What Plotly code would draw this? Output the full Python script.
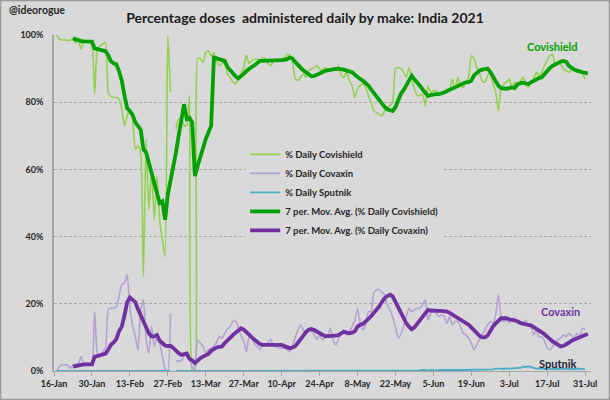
import pandas as pd
import plotly.graph_objects as go

start_date = "2021-01-17"

# % daily Covishield (one value per day from 17-Jan)
covishield_daily = [
    100, 98.8, 98.5, 98.5, 98.4, 98.5, 98.8, 97.6, 98.8, 95.8,
    97.8, 98, 98, 97.3, 82.4, 95.8, 96.8, 97.3, 97.8, 83,
    81.7, 81.4, 81.4, 80.9, 78, 73, 76, 78, 75, 66,
    67, 65, 28, 69, 48, 60, 45, 58, 45, 39,
    34, 100, 83, None, 72, 75, 75, 73, 73, 82,
    0, 0, 93, 93, 91.8, 94.8, 95.3, 93.8, 94.8, 92.3,
    90.8, 91.5, 91.8, 88.4, 87.4, 86, 85.4, 86.9, 88.4, 90.3,
    94, 91.5, 92.3, 92.8, 92.8, 92.3, 93.3, 92.8, 91.5, 90.8,
    92.3, 92.8, 92.8, 92.8, 93.3, 94.3, 94, 92, 87, 86.4,
    87.5, 88.4, 87.4, 89.4, 89.9, 90.3, 90.8, 89.9, 89.4, 90.3,
    89.9, 89.9, 89.9, 89.4, 90.8, 88, 87.4, 88.9, 86.4, 84.9,
    81.4, 84, 85, 85.4, 84.4, 82, 80, 77.5, 76.9, 76.4,
    75.9, 77.4, 78.4, 79, 79.9, 90, 90.3, 90, 89, 87.4,
    90.3, 87, 84, 82, 82, 82.4, 78.9, 84.9, 83, 83.4,
    83.4, 82.4, 82.9, 82.9, 83.9, 84, 86.9, 84, 87.4, 85,
    84.4, 85.9, 87.4, 93.8, 93, 90.3, 88.5, 86.4, 85.9, 87.9,
    88.9, 85.5, 83, 77.4, 84, 85.4, 86, 86.9, 84.4, 85.9,
    85.4, 86, 87.4, 85.9, 84.4, 85.9, 87, 88.9, 87.9, 88.9,
    90.8, 92.5, 93.8, 94.3, 90.8, 91.8, 91.3, 89.9, 89.4, 88.9,
    89.5, 89.9, 88.9, 89.4, 88.4, 86.9, None,
]

covaxin_daily = [
    0, 1.3, 1.8, 1.8, 1.8, 0.8, 1.8, 2, 2.3, 4.3,
    1.8, 2.3, 2.3, 1.8, 17.7, 5.3, 4.3, 5.8, 6.8, 18.2,
    18.7, 18.7, 19.2, 22.2, 25.7, 26.2, 28.7, 19, 13.5, 10.2,
    6.3, 18.2, 21.2, 9.3, 5.3, 13.2, 7.3, 10.2, 8.3, 4.3,
    0.5, 0, 17.2, None, 3, 3, 3, 4.5, 4.5, 3.5,
    1.3, 0.3, 9.3, 8.3, 7.3, 5.3, 6.3, 6.8, 7.5, 8.5,
    10.2, 9.7, 11.2, 12.5, 13.2, 14.7, 15, 13, 10.5, 9,
    5.8, 10.2, 9.8, 8, 7.3, 6.3, 7.8, 7.8, 8.5, 9.5,
    7.3, 7.3, 6.8, 6.8, 6.8, 6.3, 5.8, 7.3, 10, 12.2,
    13.7, 12.2, 11.2, 12.2, 11.7, 11, 9.3, 10.7, 9.3, 9.8,
    10.5, 12.7, 9.3, 7.8, 9.5, 11.5, 11.7, 10.7, 11.7, 13.2,
    15, 18.7, 14.2, 12.2, 13.7, 17.7, 17.7, 23.2, 24.2, 24.2,
    23.5, 22.7, 19.7, 18.2, 16, 13, 9.8, 11, 13.2, 16.2,
    18.7, 17.7, 18.2, 18.7, 18.7, 19.7, 21.2, 15.2, 17.2, 17.7,
    17.2, 16.2, 16.7, 16.2, 14.2, 16.2, 13.7, 14.7, 14.7, 13.2,
    11.2, 10.7, 9.8, 8.3, 6.3, 7.8, 9.3, 10.7, 12.2, 13.7,
    14.7, 14.2, 16.7, 22.7, 16.2, 14.7, 15.2, 14.2, 15.5, 15.7,
    14.7, 14.7, 13.7, 15.2, 14, 13.7, 10.7, 12.2, 10.2, 10.2,
    9, 6.8, 6.3, 7.3, 8.5, 9.3, 9.8, 10.7, 10.2, 11.2,
    10.5, 9.8, 11.2, 10.2, 12.7, 12.5, None,
]

sputnik_daily = [
    0, 0, 0, 0, 0, 0, 0, 0, 0, 0,
    0, 0, 0, 0, 0, 0, 0, 0, 0, 0,
    0, 0, 0, 0, 0, 0, 0, 0, 0, 0,
    0, 0, 0, 0, 0, 0, 0, 0, 0, 0,
    0, 0, 0, None, 0, 0, 0, 0, 0, 0,
    0, 0, 0, 0, 0, 0, 0, 0, 0, 0,
    0, 0, 0, 0, 0, 0, 0, 0, 0, 0,
    0, 0, 0, 0, 0, 0, 0, 0, 0, 0,
    0, 0, 0, 0, 0, 0, 0, 0, 0, 0,
    0, 0, 0, 0, 0, 0, 0, 0, 0, 0,
    0, 0, 0, 0, 0, 0, 0, 0, 0, 0,
    0, 0, 0, 0, 0, 0, 0, 0.1, 0.1, 0.1,
    0.1, 0.1, 0.2, 0.1, 0.1, 0.2, 0.1, 0.2, 0.2, 0.1,
    0.2, 0.2, 0.1, 0.2, 0.2, 0.3, 0.2, 0.2, 0.3, 0.2,
    0.2, 0.3, 0.2, 0.3, 0.3, 0.2, 0.3, 0.3, 0.2, 0.3,
    0.3, 0.3, 0.4, 0.3, 0.3, 0.4, 0.3, 0.4, 0.4, 0.3,
    0.4, 0.5, 0.7, 0.8, 0.7, 0.6, 0.8, 0.7, 0.7, 0.8,
    0.7, 0.9, 1.3, 1.2, 1.4, 1.1, 0.8, 0.7, 0.8, 0.6,
    0.6, 0.5, 0.7, 0.6, 0.5, 0.6, 0.7, 0.6, 0.5, 0.6,
    0.6, 0.5, 0.6, 0.7, 0.6, 0.5, None,
]

covishield_ma7 = [
    None, None, None, None, None, None, 99.0, 98.7, 98.6, 98.2,
    98.1, 98.1, 98.1, 98.0, 96.0, 95.8, 95.6, 95.4, 95.2, 94.0,
    92.2, 91.6, 91.3, 89.2, 86.5, 82, 78.2, 77.4, 76.2, 74,
    72.8, 71.8, 66, 65, 62, 59, 56, 54, 50, 50.5,
    45, 52.5, 56.5, 60, 65, 70, 74, 79.4, 75, 75.4,
    74, 58, 61, 64, 67, 69, 71, 73, 93.3, 93,
    92.8, 92.5, 92.3, 90.5, 89.5, 88.3, 87.7, 87.1, 87.6, 88.4,
    89.3, 90, 90.5, 91, 91.7, 92.3, 92.3, 92.3, 92.3, 92.3,
    92.3, 92.3, 92.3, 92.5, 92.6, 92.8, 93.3, 93, 92, 91,
    90.3, 89.5, 88.9, 88, 87.7, 87.8, 88.2, 88.7, 89, 89.3,
    89.5, 89.7, 89.9, 89.9, 89.9, 89.9, 89.7, 89.4, 89.2, 88.9,
    88.2, 87.4, 86.9, 86.4, 85.8, 85, 83.8, 82.8, 81.8, 80.4,
    79.4, 78.6, 77.9, 77.6, 77.4, 78.5, 80.5, 82.5, 83.6, 85.2,
    86.4, 87.9, 86.8, 85.6, 84.9, 83.8, 82.9, 81.9, 82.1, 82.4,
    82.4, 82.4, 82.6, 82.9, 83.3, 83.7, 83.9, 84.3, 84.9, 85.3,
    85.7, 85.9, 86, 86.4, 88, 88.8, 89.4, 89.7, 90, 90,
    89, 87.5, 86.4, 84.9, 84.2, 84, 84, 84.2, 84.4, 84.2,
    85.3, 85.6, 85.8, 85.6, 85.4, 85.9, 86.4, 86.9, 87.2, 87.4,
    88.4, 89.4, 90.2, 90.8, 91.3, 91.7, 92.1, 92.3, 92, 90.8,
    90.2, 89.7, 89.4, 89.1, 88.9, 88.7, 88.6,
]

covaxin_ma7 = [
    None, None, None, None, None, None, 1.3, 1.5, 1.7, 2,
    2, 2, 2, 2, 4.2, 4.5, 4.8, 4.9, 5.2, 6.3,
    7.8, 8.5, 9.5, 11.8, 13.2, 16.5, 20.5, 21.9, 21.3, 20.5,
    18.4, 16.8, 15.2, 13, 11.2, 10.3, 10.3, 10.7, 9, 8.4,
    7.6, 7.4, 7.5, 6.9, 5.9, 5.3, 4.8, 5, 5.2, 3.6,
    3.2, 2.4, 3.2, 3.8, 4.3, 4.7, 5.1, 6, 6.6, 7,
    7.2, 7.3, 8.3, 9.2, 10, 10.7, 11.4, 12.2, 12.7, 12.3,
    11.7, 10.8, 10, 9.3, 8.6, 8, 7.8, 7.8, 7.8, 7.8,
    7.8, 7.8, 7.8, 7.8, 7.4, 7.1, 6.8, 7, 7.4, 8.4,
    9.5, 10.6, 11.6, 12.3, 12.5, 12.2, 11.7, 11.3, 10.8, 10.4,
    10.4, 10.4, 10.4, 10.5, 10.7, 11.2, 11.7, 11.4, 11.2, 11.4,
    11.8, 13.2, 13.8, 14, 14.6, 15.5, 16.3, 17.2, 18.2, 19.2,
    20.5, 21.7, 22.3, 22.7, 22.2, 20.5, 18.7, 17, 15.8, 14.2,
    13.2, 12.4, 13, 14, 15.2, 16.2, 17.3, 18.2, 18, 17.9,
    17.9, 17.9, 17.9, 17.8, 17.7, 17.3, 16.8, 16.2, 15.7, 15.2,
    14.7, 14.4, 13.8, 13, 12.2, 11.2, 10.5, 10, 10, 10.5,
    12, 13.2, 14.2, 15, 15.7, 15.7, 15.7, 15.4, 15.2, 15.2,
    14.8, 14.3, 14, 13.7, 13.7, 13.6, 13.1, 12.6, 12.3, 11.8,
    11, 10.2, 9.4, 8.8, 8.3, 7.8, 7.3, 7.5, 7.8, 8.4,
    9, 9.4, 9.7, 10.2, 10.5, 10.7, 11,
]

series_names = [
    "% Daily Covishield",
    "% Daily Covaxin",
    "% Daily Sputnik",
    "7 per. Mov. Avg. (% Daily Covishield)",
    "7 per. Mov. Avg. (% Daily Covaxin)",
]

FONT = "Lato"
BG = "#D9D9D9"
AX = "#A6A6A6"
TXT = "#262626"

n = max(len(covishield_daily), len(covaxin_daily), len(sputnik_daily),
        len(covishield_ma7), len(covaxin_ma7))
dates = pd.date_range(start_date, periods=n, freq="D")

fig = go.Figure()
specs = [
    (covishield_daily, "#92D050", 1.6, "spline"),
    (covaxin_daily, "#B3A2D2", 1.6, "spline"),
    (sputnik_daily, "#4BACC6", 1.8, "linear"),
    (covishield_ma7, "#00A000", 3.8, "linear"),
    (covaxin_ma7, "#7030A0", 3.8, "linear"),
]
for (vals, color, w, shape), name in zip(specs, series_names):
    line = dict(color=color, width=w, shape=shape)
    if shape == "spline":
        line["smoothing"] = 0.5
    fig.add_trace(go.Scatter(
        x=dates[:len(vals)], y=vals, mode="lines", name=name,
        line=line, connectgaps=False,
    ))

fig.update_layout(
    width=610, height=400,
    margin=dict(l=54, r=19, t=35, b=29, autoexpand=False),
    paper_bgcolor=BG, plot_bgcolor=BG,
    font=dict(family=FONT, color=TXT),
    title=dict(
        text="Percentage doses\u00a0 administered daily by make: India 2021",
        x=0.5, xref="container", xanchor="center",
        y=1 - 18 / 400, yref="container", yanchor="middle",
        font=dict(family=FONT, size=14, weight="bold", color="#1a1a1a"),
    ),
    showlegend=True,
    legend=dict(
        x=0.356, y=0.688, xanchor="left", yanchor="top",
        bgcolor=BG, borderwidth=0,
        font=dict(family=FONT, size=9.5, weight="bold", color=TXT),
        tracegroupgap=0,
    ),
    xaxis=dict(
        type="date",
        range=["2021-01-16", "2021-08-02 04:00"],
        tick0="2021-01-16", dtick=14 * 86400000,
        tickformat="%-d-%b",
        ticks="outside", ticklen=4, tickcolor=AX, tickwidth=1,
        showline=True, linecolor=AX, linewidth=1,
        showgrid=False, zeroline=False, layer="below traces",
        automargin=False,
        tickfont=dict(family=FONT, size=9, weight="bold", color=TXT),
    ),
    yaxis=dict(
        range=[0, 100], dtick=20, ticksuffix="%",
        showgrid=True, gridcolor=AX, gridwidth=1, griddash="3px,2px",
        showline=True, linecolor=AX, linewidth=1.5,
        zeroline=False, ticks="", layer="below traces",
        ticklabelstandoff=7, automargin=False,
        tickfont=dict(family=FONT, size=9, weight="bold", color=TXT),
    ),
)

fig.add_annotation(text="@ideorogue", xref="paper", yref="paper",
                   x=-0.087, y=1.074, xanchor="left", yanchor="middle",
                   showarrow=False,
                   font=dict(family=FONT, size=10.5, weight="bold", color=TXT))
fig.add_annotation(text="Covishield", xref="paper", yref="paper",
                   x=0.929, y=0.967, xanchor="center", yanchor="middle",
                   showarrow=False,
                   font=dict(family=FONT, size=11, weight="bold", color="#00A000"))
fig.add_annotation(text="Covaxin", xref="paper", yref="paper",
                   x=0.944, y=0.176, xanchor="center", yanchor="middle",
                   showarrow=False,
                   font=dict(family=FONT, size=11, weight="bold", color="#7030A0"))
fig.add_annotation(text="Sputnik", xref="paper", yref="paper",
                   x=0.9385, y=0.021, xanchor="center", yanchor="middle",
                   showarrow=False,
                   font=dict(family=FONT, size=11, weight="bold", color="#1B2433"))

# outer frame of the chart
fig.add_shape(type="rect", xref="paper", yref="paper",
              x0=-0.0996, x1=1.0345, y0=-0.0848, y1=1.1027,
              line=dict(color="#9A9A9A", width=1.5), fillcolor="rgba(0,0,0,0)",
              layer="above")

fig.write_html(
    "out.html",
    config={"displayModeBar": False},
    post_script="document.body.style.margin='0';document.body.style.overflow='hidden';",
)
